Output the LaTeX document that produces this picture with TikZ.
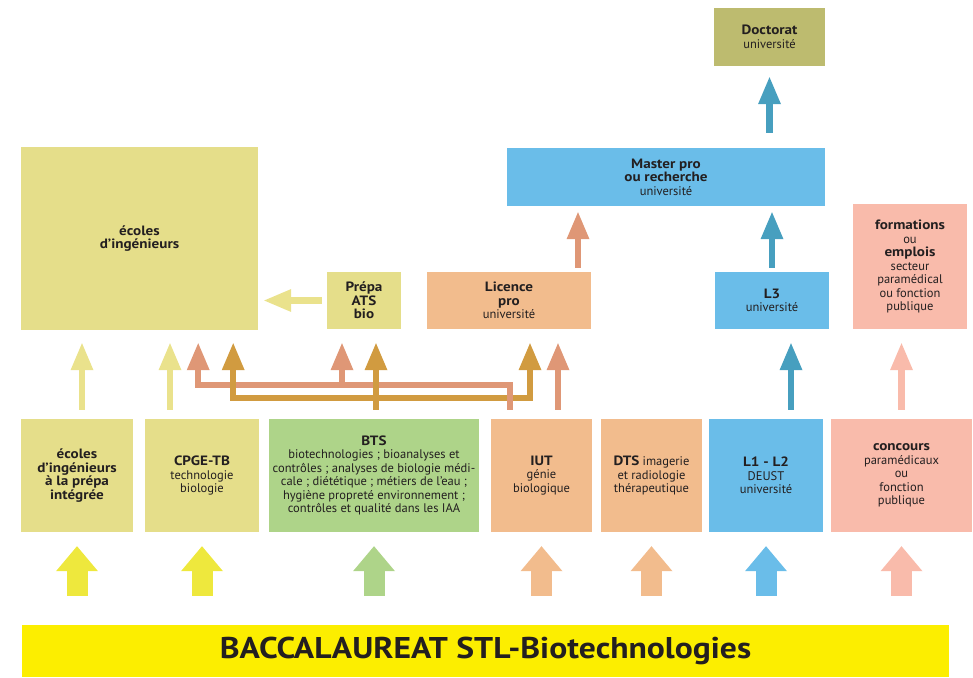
\documentclass[tikz,border=0pt]{standalone}
\usepackage{fontspec}
\setmainfont{PT Sans}[BoldFeatures={FakeStretch=1.12}]
\usetikzlibrary{arrows.meta,positioning}
\usepackage{xcolor}
\definecolor{Ink}{HTML}{231F20}
\definecolor{Straw}{HTML}{E5DE8A}
\definecolor{Olive}{HTML}{BDBB6F}
\definecolor{Sky}{HTML}{6ABDE9}
\definecolor{Peach}{HTML}{F2BC8D}
\definecolor{Rose}{HTML}{F9BBAB}
\definecolor{Leaf}{HTML}{AED489}
\definecolor{BacYellow}{HTML}{FCEE00}
\definecolor{Lemon}{HTML}{EEE83D}
\definecolor{PaleStraw}{HTML}{EAE28C}
\definecolor{Salmon}{HTML}{DF9776}
\definecolor{Ochre}{HTML}{D19B40}
\definecolor{Steel}{HTML}{479FBF}
\newcommand{\hd}[1]{{\fontsize{13.5}{13.5}\selectfont\bfseries #1}}

\begin{document}
\begin{tikzpicture}[x=1pt,y=-1pt,font=\fontsize{12.5}{13.5}\selectfont,
    box/.style={inner sep=0pt,align=center,text=Ink},
    up/.style={line width=6.5pt,-{Triangle[width=23pt,length=27pt,line width=0pt]}},
    fat/.style={line width=21pt,shorten <=29pt,shorten >=14pt,
                -{Triangle[width=42pt,length=25pt,line width=0pt]}}]
  \useasboundingbox (0,0) rectangle (973,677);

  % upper levels
  \node[box,fill=Olive,minimum width=111pt,minimum height=58pt]
    (doctorat) at (769.5,37) {\hd{Doctorat}\\université};
  \node[box,fill=Sky,minimum width=318pt,minimum height=58pt]
    (master) at (666,177) {\hd{Master pro}\\\hd{ou recherche}\\université};
  \node[box,fill=Straw,minimum width=237pt,minimum height=183pt]
    (ecoles) at (139.5,238.5) {\hd{écoles}\\\hd{d’ingénieurs}};
  \node[box,fill=Straw,minimum width=74pt,minimum height=57pt]
    (prepa) at (364,300.5) {\hd{Prépa}\\\hd{ATS}\\\hd{bio}};
  \node[box,fill=Peach,minimum width=164pt,minimum height=57pt]
    (licence) at (509,300.5) {\hd{Licence}\\\hd{pro}\\université};
  \node[box,fill=Sky,minimum width=114pt,minimum height=57pt]
    (l3) at (772,300.5) {\hd{L3}\\université};
  \node[box,fill=Rose,minimum width=114pt,minimum height=125pt]
    (formations) at (910,266.5) {\hd{formations}\\ou\\\hd{emplois}\\secteur\\paramédical\\ou fonction\\publique};

  % after the bac
  \node[box,fill=Straw,minimum width=112pt,minimum height=113pt]
    (ecprep) at (77,475.5) {\hd{écoles}\\\hd{d’ingénieurs}\\\hd{à la prépa}\\\hd{intégrée}};
  \node[box,fill=Straw,minimum width=114pt,minimum height=113pt]
    (cpge) at (202,475.5) {\hd{CPGE-TB}\\technologie\\biologie};
  \node[box,fill=Leaf,minimum width=210pt,minimum height=113pt]
    (bts) at (374,475.5) {\hd{BTS}\\biotechnologies ; bioanalyses et\\contrôles ; analyses de biologie médi-\\cale ; diététique ; métiers de l’eau ;\\hygiène propreté environnement ;\\contrôles et qualité dans les IAA};
  \node[box,fill=Peach,minimum width=101pt,minimum height=113pt]
    (iut) at (541.5,475.5) {\hd{IUT}\\génie\\biologique};
  \node[box,fill=Peach,minimum width=101pt,minimum height=113pt]
    (dts) at (651.5,475.5) {\hd{DTS} imagerie\\et radiologie\\thérapeutique};
  \node[box,fill=Sky,minimum width=114pt,minimum height=113pt]
    (l1) at (766,475.5) {\hd{L1 - L2}\\DEUST\\université};
  \node[box,fill=Rose,minimum width=141pt,minimum height=113pt]
    (concours) at (901.5,475.5) {\hd{concours}\\paramédicaux\\ou\\fonction\\publique};

  \node[box,fill=BacYellow,minimum width=927pt,minimum height=52pt]
    (bac) at (485.5,651) {\raisebox{-4pt}{\fontsize{30}{32}\selectfont\bfseries BACCALAUREAT STL-Biotechnologies}};

  % bac -> first year
  \draw[fat,Lemon] (bac.north -| ecprep.south) -- (ecprep.south);
  \draw[fat,Lemon] (bac.north -| cpge.south) -- (cpge.south);
  \draw[fat,Leaf] (bac.north -| bts.south) -- (bts.south);
  \draw[fat,Peach] (bac.north -| iut.south) -- (iut.south);
  \draw[fat,Peach] (bac.north -| dts.south) -- (dts.south);
  \draw[fat,Sky] (bac.north -| l1.south) -- (l1.south);
  \draw[fat,Rose] (bac.north -| concours.south) -- (concours.south);

  % straight links
  \draw[up,PaleStraw,shorten <=9pt,shorten >=13pt]
    ([xshift=5pt]ecprep.north) -- ([xshift=5pt]ecprep.north |- ecoles.south);
  \draw[up,PaleStraw,shorten <=9pt,shorten >=13pt]
    ([xshift=-32pt]cpge.north) -- ([xshift=-32pt]cpge.north |- ecoles.south);
  \draw[up,Salmon,shorten <=9pt,shorten >=14pt]
    ([xshift=16.5pt]iut.north) -- ([xshift=16.5pt]iut.north |- licence.south);
  \draw[up,Steel,shorten <=9pt,shorten >=14pt]
    ([xshift=25pt]l1.north) -- ([xshift=25pt]l1.north |- l3.south);
  \draw[up,Rose,shorten <=9pt,shorten >=14pt]
    (concours.north) -- (concours.north |- formations.south);
  \draw[up,PaleStraw,shorten <=5pt,shorten >=6pt] (prepa.west) -- (prepa.west -| ecoles.east);
  \draw[up,Salmon,shorten <=4pt,shorten >=6pt]
    ([xshift=69pt]licence.north) -- ([xshift=69pt]licence.north |- master.south);
  \draw[up,Steel,shorten <=4pt,shorten >=6pt] (l3.north) -- (l3.north |- master.south);
  \draw[up,Steel,shorten <=15pt,shorten >=11pt] (master.north -| doctorat.south) -- (doctorat.south);

  % IUT and BTS towards the prepas and the licence
  \coordinate (iutup) at ([xshift=-31.5pt,yshift=9pt]iut.north);
  \coordinate (btsup) at ([xshift=2pt,yshift=9pt]bts.north);
  \draw[up,Salmon,shorten >=13pt] (iutup) -- ++(0,-25) -| ([xshift=-60pt]ecoles.south east);
  \draw[up,Salmon,shorten >=14pt] (iutup) ++(0,-25) -| ([xshift=-22pt]prepa.south);
  \draw[up,Ochre,shorten >=14pt] (btsup) -- ([xshift=12pt]prepa.south);
  \draw[up,Ochre,shorten >=13pt] (btsup) ++(0,-12) -| ([xshift=-25pt]ecoles.south east);
  \draw[up,Ochre,shorten >=14pt] (btsup) ++(0,-12) -| ([xshift=21pt]licence.south);
  \draw[Salmon,line width=6.5pt] (iutup) -- ++(0,-28);
\end{tikzpicture}
\end{document}
